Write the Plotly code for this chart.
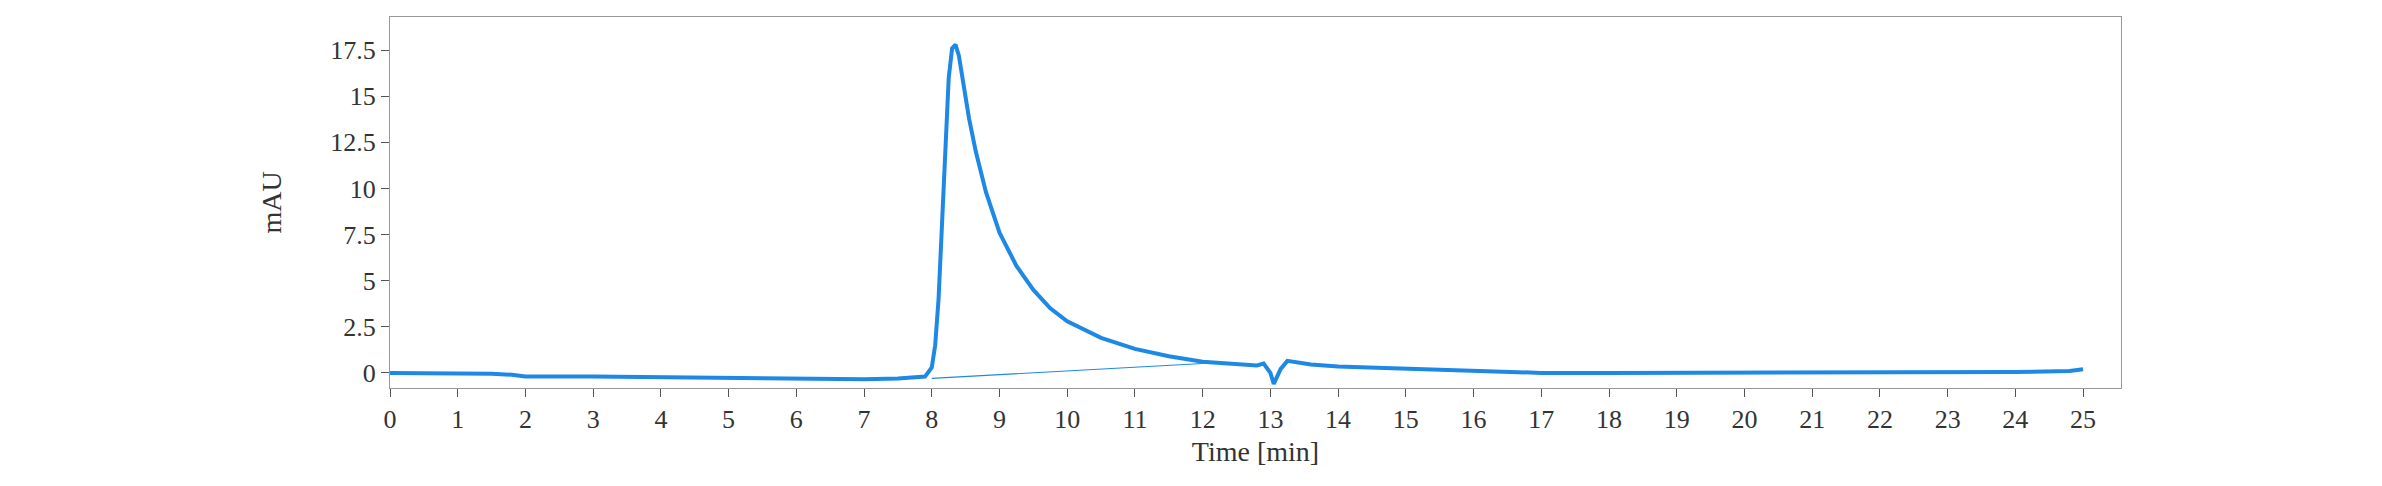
import plotly.graph_objects as go

time_min = [0, 0.5, 1, 1.5, 1.8, 2.0, 3, 4, 5, 6, 7, 7.5, 7.9, 8.0, 8.05, 8.1, 8.15, 8.2, 8.25, 8.3, 8.35, 8.4, 8.45, 8.55, 8.65, 8.8, 9.0, 9.25, 9.5, 9.75, 10, 10.5, 11, 11.5, 12, 12.5, 12.8, 12.9, 13.0, 13.05, 13.15, 13.25, 13.4, 13.6, 14, 14.5, 15, 15.5, 16, 16.5, 17, 18, 19, 20, 21, 22, 23, 24, 24.8, 25]
mau = [0.0, 0.0, -0.05, -0.05, -0.1, -0.2, -0.2, -0.25, -0.3, -0.35, -0.35, -0.3, -0.2, 0.3, 1.5, 4.0, 8.0, 12.5, 16.0, 17.6, 17.8, 17.2, 16.0, 13.8, 12.0, 9.8, 7.6, 5.8, 4.5, 3.5, 2.8, 1.9, 1.3, 0.9, 0.6, 0.5, 0.4, 0.5, 0.0, -0.6, 0.2, 0.65, 0.55, 0.45, 0.35, 0.3, 0.25, 0.2, 0.15, 0.05, 0.0, 0.0, 0.0, 0.0, 0.0, 0.0, 0.0, 0.05, 0.1, 0.2]
baseline_t = [8.0, 12.2]
baseline_y = [-0.3, 0.55]

fig = go.Figure()
fig.add_trace(go.Scatter(x=baseline_t, y=baseline_y, mode="lines",
                         line=dict(color="#1e88e5", width=1.2), showlegend=False))
fig.add_trace(go.Scatter(x=time_min, y=mau, mode="lines",
                         line=dict(color="#1e88e5", width=4), showlegend=False))
axcommon = dict(showgrid=False, zeroline=False, showline=True, linecolor="#999999",
                mirror=True, ticks="outside", ticklen=8, tickcolor="#555555",
                tickfont=dict(family="Liberation Serif", size=26, color="#333"))
fig.update_xaxes(range=[0, 25.56], tickmode="linear", tick0=0, dtick=1,
                 title=dict(text="Time [min]", font=dict(family="Liberation Serif", size=28, color="#333"), standoff=8),
                 **axcommon)
fig.update_yaxes(range=[-0.82, 19.3], tickmode="array",
                 tickvals=[0, 2.5, 5, 7.5, 10, 12.5, 15, 17.5],
                 ticktext=["0", "2.5", "5", "7.5", "10", "12.5", "15", "17.5"],
                 title=dict(text="mAU", font=dict(family="Liberation Serif", size=28, color="#333"), standoff=40),
                 **axcommon)
fig.update_layout(width=2382, height=486, plot_bgcolor="white", paper_bgcolor="white",
                  margin=dict(l=382, r=269, t=9, b=106))
fig.write_html("out.html")
